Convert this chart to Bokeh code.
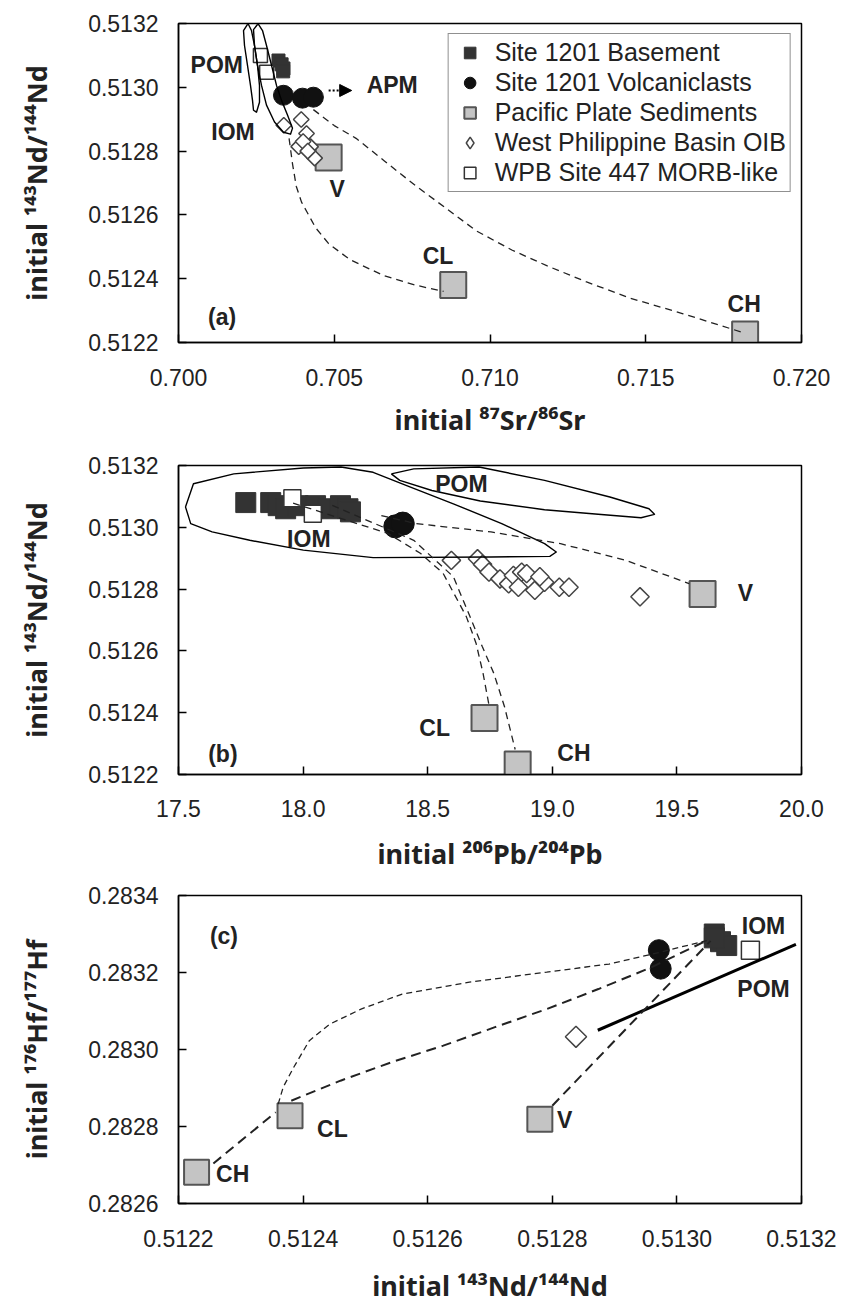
from bokeh.plotting import figure
from bokeh.models import Range1d, FixedTicker, PrintfTickFormatter, Legend, LegendItem, Arrow, NormalHead
from bokeh.layouts import column
from bokeh.embed import file_html
from bokeh.resources import INLINE
from bokeh.core.properties import value
import numpy as np

FONT = "Liberation Sans"
TITLE_FONT = "Noto Sans"

# ---------------- Panel (a): Sr vs Nd ----------------
a_sed_sr = [0.70482, 0.70882, 0.71819]
a_sed_nd = [0.51278, 0.51238, 0.512225]
a_base_sr = [0.70321, 0.70331, 0.70337, 0.70336]
a_base_nd = [0.513084, 0.513072, 0.513059, 0.513050]
a_morb_sr = [0.70263, 0.70283]
a_morb_nd = [0.51310, 0.513047]
a_volc_sr = [0.70337, 0.70398, 0.70433]
a_volc_nd = [0.512975, 0.512966, 0.512969]
a_oib_sr = [0.70338, 0.70394, 0.70411, 0.70386, 0.70424, 0.70437, 0.70400, 0.70415]
a_oib_nd = [0.512881, 0.512899, 0.512855, 0.512814, 0.512814, 0.512778, 0.512830, 0.512800]
a_curve_cl_sr = [0.70355, 0.70366, 0.70378, 0.70395, 0.70412, 0.70440, 0.70482, 0.70550, 0.70658, 0.70760, 0.70851]
a_curve_cl_nd = [0.51284, 0.51276, 0.51269, 0.51264, 0.51261, 0.51256, 0.51251, 0.51246, 0.51241, 0.51238, 0.51236]
a_curve_ch_sr = [0.70433, 0.70500, 0.70570, 0.70660, 0.70763, 0.70860, 0.70956, 0.71070, 0.71184, 0.71310, 0.71447, 0.71620, 0.71816]
a_curve_ch_nd = [0.51293, 0.51288, 0.51284, 0.51277, 0.51269, 0.51262, 0.51255, 0.51249, 0.51244, 0.51239, 0.51234, 0.51229, 0.51223]
a_field1_sr = [0.702215, 0.702087, 0.702119, 0.702215, 0.702311, 0.702376, 0.702408, 0.702504, 0.702600, 0.702600, 0.702536, 0.702440, 0.702343, 0.702247, 0.702215]
a_field1_nd = [0.513197, 0.513178, 0.513131, 0.513069, 0.513006, 0.512959, 0.512928, 0.512922, 0.512953, 0.513006, 0.513069, 0.513131, 0.513178, 0.513197, 0.513197]
a_field2_sr = [0.702536, 0.702408, 0.702440, 0.702536, 0.702665, 0.702825, 0.703082, 0.703371, 0.703596, 0.703660, 0.703499, 0.703307, 0.703146, 0.702986, 0.702825, 0.702697, 0.702568, 0.702536]
a_field2_nd = [0.513197, 0.513181, 0.513131, 0.513069, 0.513006, 0.512944, 0.512891, 0.512859, 0.512853, 0.512872, 0.512913, 0.512959, 0.513006, 0.513069, 0.513131, 0.513178, 0.513197, 0.513197]
a_apm_arrow_sr = [0.70482, 0.70556]
a_apm_arrow_nd = [0.51299, 0.51299]
a_label_text = ["POM", "IOM", "APM", "V", "CL", "CH", "(a)"]
a_label_sr = [0.70123, 0.70175, 0.70686, 0.70509, 0.70833, 0.71816, 0.70140]
a_label_nd = [0.51307, 0.51286, 0.513006, 0.51268, 0.51247, 0.51232, 0.51228]
a_xticks = [0.700, 0.705, 0.710, 0.715, 0.720]
a_yticks = [0.5122, 0.5124, 0.5126, 0.5128, 0.5130, 0.5132]
legend_labels = ["Site 1201 Basement", "Site 1201 Volcaniclasts", "Pacific Plate Sediments",
                 "West Philippine Basin OIB", "WPB Site 447 MORB-like"]

# ---------------- Panel (b): Pb vs Nd ----------------
b_sed_pb = [19.603, 18.728, 18.861]
b_sed_nd = [0.512784, 0.512383, 0.512232]
b_base_pb = [17.77, 17.87, 17.90, 17.93, 17.98, 18.05, 18.10, 18.15, 18.18, 18.19]
b_base_nd = [0.51308, 0.51308, 0.51307, 0.51306, 0.51307, 0.51307, 0.51306, 0.51307, 0.51306, 0.51305]
b_morb_pb = [17.957, 18.039]
b_morb_nd = [0.513094, 0.513044]
b_volc_pb = [18.37, 18.40]
b_volc_nd = [0.513003, 0.513012]
b_oib_pb = [18.595, 18.70, 18.72, 18.746, 18.79, 18.825, 18.844, 18.864, 18.877, 18.897, 18.93, 18.969, 18.95, 19.028, 19.067, 19.352]
b_oib_nd = [0.512893, 0.512898, 0.512880, 0.512855, 0.512833, 0.512817, 0.512844, 0.512806, 0.512855, 0.512850, 0.512796, 0.512822, 0.512840, 0.512806, 0.512806, 0.512775]
b_curve_v_pb = [18.314, 18.453, 18.754, 19.033, 19.291, 19.549]
b_curve_v_nd = [0.513038, 0.513012, 0.512985, 0.512947, 0.512894, 0.512818]
b_curve_cl_pb = [17.960, 18.341, 18.472, 18.562, 18.655, 18.694, 18.722, 18.747]
b_curve_cl_nd = [0.513078, 0.512980, 0.512915, 0.512851, 0.512711, 0.512625, 0.512528, 0.512420]
b_curve_ch_pb = [18.117, 18.444, 18.603, 18.681, 18.719, 18.765, 18.808, 18.851]
b_curve_ch_nd = [0.513071, 0.512958, 0.512840, 0.512689, 0.512614, 0.512528, 0.512420, 0.512281]
b_iom_pb = [17.528, 17.560, 17.722, 18.001, 18.152, 18.281, 18.431, 18.603, 18.797, 18.969, 19.016, 18.990, 18.754, 18.281, 18.001, 17.786, 17.635, 17.549, 17.528]
b_iom_nd = [0.513066, 0.513141, 0.513173, 0.513192, 0.513195, 0.513178, 0.513130, 0.513076, 0.513012, 0.512947, 0.512920, 0.512906, 0.512904, 0.512902, 0.512926, 0.512958, 0.512985, 0.513012, 0.513066]
b_pom_pb = [18.354, 18.444, 18.706, 18.969, 19.231, 19.388, 19.410, 19.356, 19.184, 18.969, 18.711, 18.517, 18.388, 18.354]
b_pom_nd = [0.513173, 0.513189, 0.513195, 0.513152, 0.513098, 0.513060, 0.513042, 0.513031, 0.513042, 0.513057, 0.513085, 0.513119, 0.513152, 0.513173]
b_label_text = ["POM", "IOM", "V", "CL", "CH", "(b)"]
b_label_pb = [18.635, 18.023, 19.775, 18.528, 19.087, 17.678]
b_label_nd = [0.513141, 0.512963, 0.512786, 0.512351, 0.512270, 0.512265]
b_xticks = [17.5, 18.0, 18.5, 19.0, 19.5, 20.0]
b_yticks = [0.5122, 0.5124, 0.5126, 0.5128, 0.5130, 0.5132]

# ---------------- Panel (c): Nd vs Hf ----------------
c_sed_nd = [0.512229, 0.512379, 0.51278]
c_sed_hf = [0.282681, 0.282828, 0.282819]
c_base_nd = [0.51306, 0.51307, 0.51308, 0.51306]
c_base_hf = [0.28330, 0.28328, 0.28327, 0.28329]
c_morb_nd = [0.513118]
c_morb_hf = [0.283258]
c_volc_nd = [0.512971, 0.512974]
c_volc_hf = [0.283258, 0.28321]
c_oib_nd = [0.512838]
c_oib_hf = [0.283033]
c_pom_line_nd = [0.512873, 0.513191]
c_pom_line_hf = [0.283050, 0.283273]
c_line_ch_cl_nd = [0.512256, 0.512356]
c_line_ch_cl_hf = [0.282704, 0.282837]
c_line_cl_base_nd = [0.512381, 0.512460, 0.512542, 0.512625, 0.512708, 0.512791, 0.512874, 0.512957, 0.513048]
c_line_cl_base_hf = [0.282867, 0.282919, 0.282967, 0.283010, 0.283058, 0.283105, 0.283157, 0.283212, 0.283283]
c_curve_cl_nd = [0.512360, 0.512368, 0.512385, 0.512410, 0.512443, 0.512493, 0.512559, 0.512667, 0.512791, 0.512891, 0.512974, 0.513048]
c_curve_cl_hf = [0.282858, 0.282902, 0.282954, 0.283023, 0.283066, 0.283105, 0.283144, 0.283175, 0.283201, 0.283222, 0.283253, 0.283283]
c_line_v_nd = [0.512800, 0.513054]
c_line_v_hf = [0.282854, 0.283282]
c_label_text = ["IOM", "POM", "V", "CL", "CH", "(c)"]
c_label_nd = [0.513139, 0.513139, 0.51282, 0.512447, 0.512287, 0.512273]
c_label_hf = [0.283322, 0.283157, 0.282817, 0.282793, 0.282676, 0.283296]
c_xticks = [0.5122, 0.5124, 0.5126, 0.5128, 0.5130, 0.5132]
c_yticks = [0.2826, 0.2828, 0.2830, 0.2832, 0.2834]

SED_FILL = "#c4c4c4"
SED_LINE = "#555555"
BASE_COL = "#333333"
VOLC_COL = "#111111"
LINE_COL = "#222222"


def make_fig(left, fw, right, top, fh, bottom, xr, yr, xticks, yticks, xfmt, yfmt,
             xlabel, ylabel, xstand, ystand, xlab_stand, ylab_stand):
    p = figure(width=left + fw + right, height=top + fh + bottom,
               x_range=Range1d(*xr), y_range=Range1d(*yr),
               output_backend="svg", toolbar_location=None,
               min_border_left=left, min_border_right=right,
               min_border_top=top, min_border_bottom=bottom)
    p.grid.visible = False
    p.outline_line_color = "black"
    p.outline_line_width = 1.5
    p.background_fill_color = "white"
    p.border_fill_color = "white"
    p.xaxis.ticker = FixedTicker(ticks=xticks)
    p.yaxis.ticker = FixedTicker(ticks=yticks)
    p.xaxis.formatter = PrintfTickFormatter(format=xfmt)
    p.yaxis.formatter = PrintfTickFormatter(format=yfmt)
    p.xaxis.axis_label = xlabel
    p.yaxis.axis_label = ylabel
    p.xaxis.major_label_standoff = xstand
    p.yaxis.major_label_standoff = ystand
    p.xaxis.axis_label_standoff = xlab_stand
    p.yaxis.axis_label_standoff = ylab_stand
    for ax in (p.xaxis[0], p.yaxis[0]):
        ax.major_tick_in = 8
        ax.major_tick_out = 0
        ax.minor_tick_line_color = None
        ax.axis_line_width = 1.5
        ax.axis_line_color = "black"
        ax.major_tick_line_width = 1.5
        ax.major_label_text_font = FONT
        ax.major_label_text_font_size = "23px"
        ax.major_label_text_color = "#222222"
        ax.axis_label_text_font = TITLE_FONT
        ax.axis_label_text_font_style = "bold"
        ax.axis_label_text_font_size = "27px"
        ax.axis_label_text_color = "#222222"
    return p


def labels(p, xs, ys, texts):
    p.text(x=xs, y=ys, text=texts, text_font=value(FONT), text_font_style="bold",
           text_font_size="23px", text_align="center", text_baseline="middle",
           text_color="#222222")


def points(p, d, sizes):
    r = {}
    r["sed"] = p.scatter(d["sed"][0], d["sed"][1], marker="square", size=sizes["sed"],
                         fill_color=SED_FILL, line_color=SED_LINE, line_width=2)
    r["base"] = p.scatter(d["base"][0], d["base"][1], marker="square", size=sizes["base"],
                          fill_color=BASE_COL, line_color=BASE_COL, line_width=1)
    r["morb"] = p.scatter(d["morb"][0], d["morb"][1], marker="square", size=sizes["morb"],
                          fill_color="white", line_color="#333333", line_width=1.5)
    r["volc"] = p.scatter(d["volc"][0], d["volc"][1], marker="circle", size=sizes["volc"],
                          fill_color=VOLC_COL, line_color=VOLC_COL, line_width=1)
    # narrow diamond glyph kept underneath the rotated squares: it supplies the legend symbol
    r["oib_key"] = p.scatter(d["oib"][0], d["oib"][1], marker="diamond", size=sizes["oib"] * 1.15,
                             fill_color="white", line_color="#444444", line_width=1.5)
    r["oib"] = p.scatter(d["oib"][0], d["oib"][1], marker="square", angle=np.pi / 4,
                         size=sizes["oib"], fill_color="white", line_color="#444444", line_width=1.5)
    return r


# ---- (a)
pa = make_fig(178, 623, 47, 23, 320, 97, (0.700, 0.720), (0.5122, 0.5132), a_xticks, a_yticks,
              "%.3f", "%.4f", "initial \u2078\u2077Sr/\u2078\u2076Sr", "initial \u00b9\u2074\u00b3Nd/\u00b9\u2074\u2074Nd",
              26, 20, 12, 30)
ra = points(pa, {"sed": (a_sed_sr, a_sed_nd), "base": (a_base_sr, a_base_nd),
                 "morb": (a_morb_sr, a_morb_nd), "volc": (a_volc_sr, a_volc_nd),
                 "oib": (a_oib_sr, a_oib_nd)},
            {"sed": 26, "base": 13, "morb": 14, "volc": 20, "oib": 11})
pa.line(a_field1_sr, a_field1_nd, line_color="black", line_width=1.4, line_join="round")
pa.line(a_field2_sr, a_field2_nd, line_color="black", line_width=1.4, line_join="round")
pa.line(a_curve_cl_sr, a_curve_cl_nd, line_color=LINE_COL, line_width=1.3, line_dash="7 5")
pa.line(a_curve_ch_sr, a_curve_ch_nd, line_color=LINE_COL, line_width=1.3, line_dash="7 5")
pa.add_layout(Arrow(end=NormalHead(size=12, fill_color="black", line_color="black"),
                    x_start=a_apm_arrow_sr[0], y_start=a_apm_arrow_nd[0],
                    x_end=a_apm_arrow_sr[1], y_end=a_apm_arrow_nd[1],
                    line_dash="2 2", line_width=2, line_color="black"))
labels(pa, a_label_sr, a_label_nd, a_label_text)
legend = Legend(items=[
    LegendItem(label=legend_labels[0], renderers=[ra["base"]]),
    LegendItem(label=legend_labels[1], renderers=[ra["volc"]]),
    LegendItem(label=legend_labels[2], renderers=[ra["sed"]]),
    LegendItem(label=legend_labels[3], renderers=[ra["oib_key"]]),
    LegendItem(label=legend_labels[4], renderers=[ra["morb"]]),
], location="top_right")
legend.margin = 10
legend.padding = 4
legend.spacing = 1
legend.glyph_width = 34
legend.glyph_height = 29
legend.label_standoff = 8
legend.label_height = 29
legend.label_text_font = FONT
legend.label_text_font_size = "25px"
legend.label_text_color = "#222222"
legend.border_line_color = "#222222"
legend.border_line_width = 1.5
legend.background_fill_alpha = 1
pa.add_layout(legend)

# ---- (b)
pb = make_fig(173, 636, 39, 25, 309, 106, (17.5, 20.0), (0.5122, 0.5132), b_xticks, b_yticks,
              "%.1f", "%.4f", "initial \u00b2\u2070\u2076Pb/\u00b2\u2070\u2074Pb", "initial \u00b9\u2074\u00b3Nd/\u00b9\u2074\u2074Nd",
              25, 20, 15, 30)
points(pb, {"sed": (b_sed_pb, b_sed_nd), "base": (b_base_pb, b_base_nd),
            "morb": (b_morb_pb, b_morb_nd), "volc": (b_volc_pb, b_volc_nd),
            "oib": (b_oib_pb, b_oib_nd)},
       {"sed": 26, "base": 20, "morb": 17, "volc": 23, "oib": 13})
pb.line(b_iom_pb, b_iom_nd, line_color="black", line_width=1.4, line_join="round")
pb.line(b_pom_pb, b_pom_nd, line_color="black", line_width=1.4, line_join="round")
pb.line(b_curve_v_pb, b_curve_v_nd, line_color=LINE_COL, line_width=1.3, line_dash="7 5")
pb.line(b_curve_cl_pb, b_curve_cl_nd, line_color=LINE_COL, line_width=1.3, line_dash="7 5")
pb.line(b_curve_ch_pb, b_curve_ch_nd, line_color=LINE_COL, line_width=1.3, line_dash="7 5")
labels(pb, b_label_pb, b_label_nd, b_label_text)

# ---- (c)
pc = make_fig(157, 659, 32, 15, 309, 102, (0.5122, 0.5132), (0.2826, 0.2834), c_xticks, c_yticks,
              "%.4f", "%.4f", "initial \u00b9\u2074\u00b3Nd/\u00b9\u2074\u2074Nd", "initial \u00b9\u2077\u2076Hf/\u00b9\u2077\u2077Hf",
              26, 20, 17, 30)
points(pc, {"sed": (c_sed_nd, c_sed_hf), "base": (c_base_nd, c_base_hf),
            "morb": (c_morb_nd, c_morb_hf), "volc": (c_volc_nd, c_volc_hf),
            "oib": (c_oib_nd, c_oib_hf)},
       {"sed": 25, "base": 20, "morb": 18, "volc": 21, "oib": 15})
pc.line(c_pom_line_nd, c_pom_line_hf, line_color="black", line_width=3)
pc.line(c_line_ch_cl_nd, c_line_ch_cl_hf, line_color=LINE_COL, line_width=2, line_dash="10 6")
pc.line(c_line_cl_base_nd, c_line_cl_base_hf, line_color=LINE_COL, line_width=2, line_dash="10 6")
pc.line(c_curve_cl_nd, c_curve_cl_hf, line_color=LINE_COL, line_width=1.3, line_dash="6 4")
pc.line(c_line_v_nd, c_line_v_hf, line_color=LINE_COL, line_width=2, line_dash="10 6")
labels(pc, c_label_nd, c_label_hf, c_label_text)

layout = column(pa, pb, pc, spacing=0)
open("out.html", "w").write(file_html(layout, INLINE))
